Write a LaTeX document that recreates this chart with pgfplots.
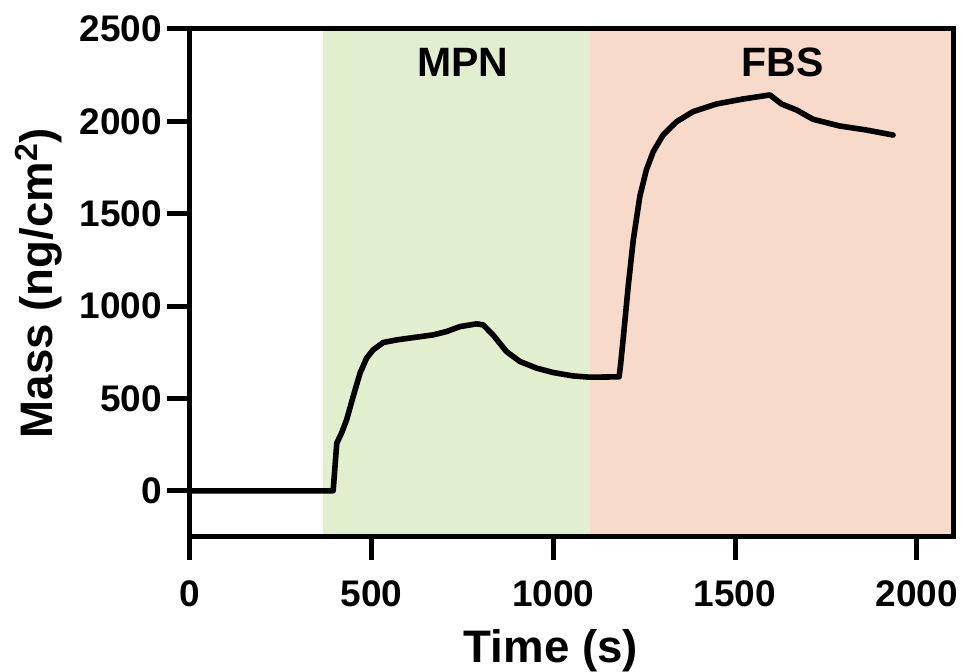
\documentclass[border=0pt]{standalone}
\usepackage{fontspec}
\setmainfont{Liberation Sans}
\usepackage{pgfplots}
\usetikzlibrary{calc}
\pgfplotsset{compat=1.18}
\definecolor{mpn}{HTML}{E2EFCF}
\definecolor{fbs}{HTML}{F8DACB}
\begin{document}
\begin{tikzpicture}
\begin{axis}[
  scale only axis,
  width=381.5pt, height=254pt,
  xmin=0, xmax=2100, ymin=-250, ymax=2500,
  xtick={0,500,1000,1500,2000},
  ytick={0,500,1000,1500,2000,2500},
  xtick pos=bottom, ytick pos=left,
  xtick align=outside, ytick align=outside,
  major tick length=11.5pt,
  axis line style={line width=2.5pt},
  major tick style={line width=2.5pt, black},
  axis on top,
  /pgf/number format/assume math mode=true,
  /pgf/number format/1000 sep={},
  ticklabel style={font=\fontsize{18.5}{22}\selectfont\bfseries},
  xticklabel style={yshift=-7pt},
  yticklabel style={xshift=1pt},
  label style={font=\fontsize{22.8}{27}\selectfont\bfseries},
  xlabel={Time (s)},
  ylabel={Mass (ng/cm$^{\mathbf 2}$)},
  xlabel style={at={(ticklabel cs:0.473)}, anchor=north, yshift=-4pt},
  ylabel style={yshift=2pt},
  clip=false,
]
\addplot[fill=mpn, draw=none] coordinates {(365,-250) (365,2500) (1100,2500) (1100,-250)} -- cycle;
\addplot[fill=fbs, draw=none] coordinates {(1100,-250) (1100,2500) (2100,2500) (2100,-250)} -- cycle;
\addplot[black, line width=2.8pt, line join=round, line cap=round] coordinates {
(0,0) (358,0) (394,0) (404,258) (417,312) (431,384) (449,510) (468,637) (486,718)
(504,763) (532,803) (569,817) (624,832) (669,844) (706,862) (743,889) (789,904)
(807,898) (834,844) (871,754) (908,700) (954,664) (1000,640) (1054,622) (1100,615)
(1181,617) (1185,682) (1192,817) (1206,1106) (1220,1358) (1238,1593) (1256,1737)
(1275,1836) (1302,1926) (1339,1998) (1385,2053) (1449,2094) (1522,2121) (1596,2143)
(1628,2094) (1669,2062) (1715,2011) (1788,1975) (1862,1953) (1935,1926)
};
\node[font=\fontsize{20.5}{24}\selectfont\bfseries] at (axis cs:751,2321) {MPN};
\node[font=\fontsize{20.5}{24}\selectfont\bfseries] at (axis cs:1631,2321) {FBS};
\coordinate (bl) at (rel axis cs:0,0);
\end{axis}
\pgfresetboundingbox
\path[use as bounding box] ($(bl)+(-95pt,-67.5pt)$) rectangle ($(bl)+(386.5pt,268.5pt)$);
\end{tikzpicture}
\end{document}
